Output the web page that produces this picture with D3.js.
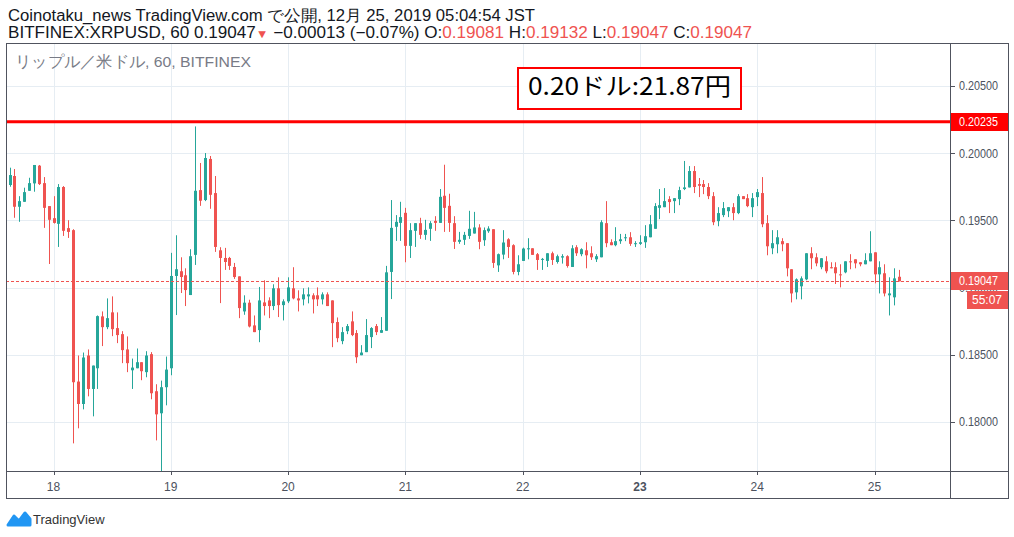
<!DOCTYPE html>
<html>
<head>
<meta charset="utf-8">
<script src="https://cdn.jsdelivr.net/npm/d3@7"></script>
<style>
  body { margin: 0; background: #fff; }
  svg text { font-family: "Liberation Sans", Arial, sans-serif; }
</style>
</head>
<body>
<div id="svg"></div>
<script>
// primera vela visible: 17 dic 15:00, velas de 1 hora
const startTime = new Date(2019, 11, 17, 15);

const opens = [
  .19764,.19831,.19602,.19639,.19721,.19776,.19908,.19778,.19607,.19517,.19475,.19749,
  .19443,.19428,.18301,.18134,.18495,.18246,.18400,.18786,.18706,.18816,.18699,.18654,
  .18540,.18385,.18400,.18445,.18371,.18505,.18229,.18065,.18259,.18400,.19087,.19122,
  .19092,.18945,.19244,.19726,.19652,.19958,.19704,.19278,.19221,.19221,.19154,.19084,
  .18823,.18888,.18719,.18684,.18890,.18905,.18863,.18995,.18870,.18898,.18995,.18920,
  .18913,.18935,.18943,.18943,.18913,.18950,.18905,.18744,.18602,.18676,.18749,.18662,
  .18497,.18520,.18632,.18714,.18664,.18679,.19117,.19453,.19482,.19557,.19311,.19423,
  .19480,.19393,.19438,.19497,.19482,.19684,.19609,.19480,.19341,.19356,.19385,.19403,
  .19448,.19353,.19420,.19435,.19166,.19246,.19360,.19316,.19117,.19199,.19288,.19293,
  .19249,.19209,.19199,.19256,.19191,.19224,.19234,.19154,.19301,.19249,.19278,.19256,
  .19211,.19226,.19480,.19338,.19316,.19346,.19368,.19375,.19326,.19326,.19338,.19375,
  .19438,.19594,.19599,.19659,.19644,.19659,.19734,.19746,.19868,.19771,.19771,.19749,
  .19681,.19495,.19540,.19569,.19599,.19555,.19681,.19666,.19599,.19674,.19704,.19480,
  .19293,.19323,.19346,.19331,.19137,.18965,.19010,.19062,.19256,.19226,.19152,.19196,
  .19152,.19152,.19099,.19114,.19196,.19211,.19189,.19174,.19196,.19263,.19099,.19107,
  .18943,.18928,.19081
];
const highs = [
  .19893,.19883,.19681,.19744,.19818,.19913,.19913,.19823,.19607,.19681,.19771,.19756,
  .19502,.19435,.18495,.18517,.18540,.18420,.18793,.18823,.18920,.18935,.18816,.18676,
  .18637,.18472,.18547,.18445,.18527,.18520,.18281,.18308,.18487,.19259,.19390,.19226,
  .19144,.19286,.20200,.19928,.20002,.19980,.19831,.19301,.19296,.19229,.19184,.19084,
  .18943,.18910,.18793,.19005,.19055,.18928,.19025,.19077,.18913,.19077,.19152,.18980,
  .18995,.19002,.18958,.19002,.18965,.18965,.18905,.18778,.18706,.18729,.18823,.18684,
  .18572,.18766,.18706,.18729,.18781,.19162,.19652,.19540,.19639,.19594,.19480,.19480,
  .19520,.19505,.19495,.19532,.19734,.19915,.19699,.19532,.19415,.19415,.19572,.19564,
  .19472,.19448,.19457,.19435,.19254,.19428,.19368,.19323,.19241,.19298,.19368,.19293,
  .19258,.19221,.19256,.19268,.19246,.19249,.19241,.19316,.19316,.19293,.19338,.19308,
  .19249,.19502,.19644,.19360,.19450,.19400,.19400,.19413,.19346,.19390,.19465,.19540,
  .19629,.19734,.19741,.19681,.19666,.19751,.19943,.19905,.19905,.19816,.19801,.19778,
  .19711,.19599,.19637,.19599,.19629,.19696,.19681,.19696,.19704,.19734,.19823,.19540,
  .19428,.19428,.19368,.19331,.19137,.19069,.19084,.19256,.19301,.19256,.19219,.19234,
  .19189,.19189,.19174,.19196,.19249,.19211,.19189,.19256,.19420,.19263,.19196,.19174,
  .19077,.19144,.19132
];
const lows = [
  .19751,.19520,.19490,.19639,.19721,.19714,.19764,.19445,.19176,.19477,.19303,.19385,
  .19370,.17841,.17953,.18094,.18191,.18042,.18246,.18565,.18691,.18639,.18587,.18438,
  .18371,.18246,.18400,.18311,.18333,.18169,.17863,.17600,.18124,.18348,.18796,.18960,
  .18863,.18945,.19169,.19609,.19644,.19587,.19266,.18885,.19132,.19132,.19065,.18773,
  .18798,.18704,.18669,.18594,.18793,.18773,.18833,.18781,.18756,.18885,.18913,.18823,
  .18868,.18883,.18808,.18863,.18875,.18863,.18557,.18594,.18579,.18654,.18639,.18438,
  .18497,.18520,.18550,.18647,.18664,.18679,.18915,.19348,.19348,.19189,.19221,.19303,
  .19363,.19356,.19348,.19423,.19482,.19415,.19415,.19288,.19326,.19318,.19363,.19403,
  .19286,.19311,.19408,.19147,.19117,.19211,.19221,.19099,.19092,.19199,.19211,.19244,
  .19132,.19132,.19154,.19169,.19179,.19179,.19149,.19154,.19236,.19234,.19144,.19206,
  .19191,.19226,.19301,.19316,.19308,.19326,.19346,.19311,.19303,.19318,.19296,.19375,
  .19438,.19510,.19599,.19555,.19555,.19614,.19726,.19746,.19704,.19674,.19696,.19659,
  .19465,.19457,.19525,.19525,.19502,.19547,.19659,.19599,.19525,.19607,.19450,.19241,
  .19249,.19256,.19271,.19084,.18890,.18913,.18913,.19055,.19137,.19159,.19137,.19107,
  .19144,.19027,.19002,.19107,.19137,.19144,.19159,.19174,.19196,.19032,.18957,.18935,
  .18793,.18868,.19047
];
const closes = [
  .19838,.19602,.19644,.19711,.19778,.19913,.19771,.19594,.19505,.19482,.19749,.19423,
  .19415,.18296,.18134,.18480,.18246,.18420,.18788,.18706,.18773,.18691,.18647,.18535,
  .18438,.18405,.18445,.18378,.18495,.18214,.18057,.18259,.18390,.19087,.19137,.19079,
  .18982,.19234,.19721,.19647,.19965,.19691,.19303,.19221,.19191,.19162,.19079,.18848,
  .18888,.18711,.18669,.18905,.18863,.18863,.18995,.18870,.18898,.19002,.18920,.18905,
  .18950,.18950,.18913,.18913,.18950,.18863,.18736,.18624,.18669,.18714,.18647,.18482,
  .18517,.18647,.18699,.18669,.18684,.19114,.19445,.19490,.19525,.19311,.19428,.19480,
  .19393,.19430,.19480,.19482,.19676,.19594,.19482,.19341,.19356,.19393,.19438,.19448,
  .19341,.19428,.19440,.19184,.19249,.19336,.19303,.19117,.19174,.19291,.19293,.19244,
  .19206,.19214,.19256,.19206,.19234,.19234,.19161,.19293,.19256,.19286,.19241,.19226,
  .19234,.19487,.19331,.19316,.19346,.19360,.19375,.19326,.19331,.19338,.19383,.19472,
  .19607,.19614,.19644,.19637,.19666,.19726,.19746,.19868,.19749,.19758,.19749,.19681,
  .19487,.19555,.19592,.19599,.19555,.19681,.19659,.19607,.19666,.19711,.19472,.19308,
  .19331,.19375,.19323,.19144,.18957,.19062,.19069,.19256,.19219,.19181,.19219,.19122,
  .19144,.19107,.19092,.19196,.19189,.19181,.19174,.19204,.19256,.19099,.19152,.18957,
  .18957,.19069,.19047
];

const dayTicks = [18, 19, 20, 21, 22, 23, 24, 25];
const boldDay = 23;
const priceTicks = [0.180, 0.185, 0.190, 0.195, 0.200, 0.205];
const levelPrice = 0.20235;
const lastPrice = 0.19047;
const countdown = "55:07";
const note = "0.20ドル:21.87円";
const paneTitle = "リップル／米ドル, 60, BITFINEX";
const header1 = "Coinotaku_news TradingView.com で公開, 12月 25, 2019 05:04:54 JST";
const header2 = [
  ["BITFINEX:XRPUSD, 60 0.19047", "dark"], ["▼", "red"], [" −0.00013 (−0.07%) O:", "dark"],
  ["0.19081", "red"], [" H:", "dark"], ["0.19132", "red"], [" L:", "dark"],
  ["0.19047", "red"], [" C:", "dark"], ["0.19047", "red"]
];

// colores
const UP = "#26a69a", DOWN = "#ef5350", GRID = "#e6edf3", BORDER = "#50535e", AXTXT = "#4c525e";

const width = 1014, height = 537;
const area = { left: 6, top: 43, right: 950, bottom: 471 };
const frame = { right: 1008, bottom: 498 };

const svg = d3.select("#svg").append("svg")
  .attr("width", width).attr("height", height);

const candles = opens.map((o, i) => ({
  t: d3.timeHour.offset(startTime, i), o, h: highs[i], l: lows[i], c: closes[i]
}));

const x = d3.scaleTime()
  .domain([new Date(2019, 11, 18), new Date(2019, 11, 25)])
  .range([53.5, 874.5]);
const y = d3.scaleLinear().domain([0.18, 0.20]).range([422, 153.3]);

// rejilla
svg.append("g").selectAll("line").data(dayTicks).join("line")
  .attr("x1", d => Math.round(x(new Date(2019, 11, d))) + 0.5)
  .attr("x2", d => Math.round(x(new Date(2019, 11, d))) + 0.5)
  .attr("y1", area.top).attr("y2", area.bottom)
  .attr("stroke", GRID);
svg.append("g").selectAll("line").data(priceTicks).join("line")
  .attr("x1", area.left).attr("x2", area.right)
  .attr("y1", d => Math.round(y(d)) + 0.5).attr("y2", d => Math.round(y(d)) + 0.5)
  .attr("stroke", GRID);

// velas
svg.append("clipPath").attr("id", "clip").append("rect")
  .attr("x", area.left).attr("y", area.top)
  .attr("width", area.right - area.left).attr("height", area.bottom - area.top);

const g = svg.append("g").attr("clip-path", "url(#clip)");
const color = d => d.c >= d.o ? UP : DOWN;

g.selectAll("line.wick").data(candles).join("line")
  .attr("class", "wick")
  .attr("x1", d => Math.round(x(d.t)) + 0.5).attr("x2", d => Math.round(x(d.t)) + 0.5)
  .attr("y1", d => y(d.h)).attr("y2", d => y(d.l))
  .attr("stroke", color);

g.selectAll("rect.body").data(candles).join("rect")
  .attr("class", "body")
  .attr("x", d => Math.round(x(d.t)) - 1)
  .attr("width", 3)
  .attr("y", d => y(Math.max(d.o, d.c)))
  .attr("height", d => Math.max(1, Math.abs(y(d.o) - y(d.c))))
  .attr("fill", color);

// linea horizontal roja
g.append("line")
  .attr("x1", area.left).attr("x2", area.right)
  .attr("y1", y(levelPrice)).attr("y2", y(levelPrice))
  .attr("stroke", "#ff0000").attr("stroke-width", 3);

// precio actual
g.append("line")
  .attr("x1", area.left).attr("x2", area.right)
  .attr("y1", Math.round(y(lastPrice)) + 0.5).attr("y2", Math.round(y(lastPrice)) + 0.5)
  .attr("stroke", DOWN).attr("stroke-dasharray", "3,2");

// marco
const frameG = svg.append("g").attr("stroke", BORDER).attr("fill", "none");
frameG.append("rect")
  .attr("x", area.left + 0.5).attr("y", area.top + 0.5)
  .attr("width", frame.right - area.left).attr("height", frame.bottom - area.top);
frameG.append("line")
  .attr("x1", area.right + 0.5).attr("x2", area.right + 0.5)
  .attr("y1", area.top).attr("y2", frame.bottom);
frameG.append("line")
  .attr("x1", area.left).attr("x2", frame.right)
  .attr("y1", area.bottom + 0.5).attr("y2", area.bottom + 0.5);

// eje de precios
const yAxis = svg.append("g");
yAxis.selectAll("line").data(priceTicks).join("line")
  .attr("x1", area.right).attr("x2", area.right + 5)
  .attr("y1", d => Math.round(y(d)) + 0.5).attr("y2", d => Math.round(y(d)) + 0.5)
  .attr("stroke", BORDER);
yAxis.selectAll("text").data(priceTicks).join("text")
  .attr("x", 959).attr("y", d => y(d))
  .attr("dy", "0.35em")
  .attr("font-size", 12).attr("fill", AXTXT)
  .attr("textLength", 39).attr("lengthAdjust", "spacingAndGlyphs")
  .text(d => d3.format(".5f")(d));

// eje de tiempo
const xAxis = svg.append("g");
xAxis.selectAll("line").data(dayTicks).join("line")
  .attr("x1", d => Math.round(x(new Date(2019, 11, d))) + 0.5)
  .attr("x2", d => Math.round(x(new Date(2019, 11, d))) + 0.5)
  .attr("y1", area.bottom).attr("y2", area.bottom + 4)
  .attr("stroke", BORDER);
xAxis.selectAll("text").data(dayTicks).join("text")
  .attr("x", d => x(new Date(2019, 11, d)))
  .attr("y", 487).attr("dy", "0.35em")
  .attr("text-anchor", "middle")
  .attr("font-size", 12).attr("fill", AXTXT)
  .attr("font-weight", d => d === boldDay ? "bold" : "normal")
  .text(d => d);

// etiquetas de precio
const tag = (price, fill, label, top) => {
  svg.append("rect")
    .attr("x", area.right + 1).attr("y", top)
    .attr("width", frame.right - area.right - 1).attr("height", 18)
    .attr("fill", fill);
  svg.append("text")
    .attr("x", 959).attr("y", top + 9).attr("dy", "0.35em")
    .attr("font-size", 12).attr("fill", "#fff")
    .attr("textLength", 39).attr("lengthAdjust", "spacingAndGlyphs")
    .text(label);
};
tag(levelPrice, "#ff0000", d3.format(".5f")(levelPrice), Math.round(y(levelPrice)) - 9);
tag(lastPrice, DOWN, d3.format(".5f")(lastPrice), Math.round(y(lastPrice)) - 9);
svg.append("rect")
  .attr("x", 967).attr("y", Math.round(y(lastPrice)) + 10)
  .attr("width", frame.right - 967).attr("height", 18)
  .attr("fill", DOWN);
svg.append("text")
  .attr("x", 987).attr("y", Math.round(y(lastPrice)) + 19).attr("dy", "0.35em")
  .attr("text-anchor", "middle")
  .attr("font-size", 12).attr("fill", "#fff")
  .text(countdown);

// nota
svg.append("rect")
  .attr("x", 518).attr("y", 68).attr("width", 223).attr("height", 41)
  .attr("fill", "#fff").attr("stroke", "#ff0000").attr("stroke-width", 2);
svg.append("text")
  .attr("x", 528).attr("y", 87).attr("dy", "0.35em")
  .style("font-family", "'Noto Sans CJK JP', sans-serif")
  .attr("font-size", 24).attr("fill", "#000")
  .attr("textLength", 203).attr("lengthAdjust", "spacingAndGlyphs")
  .text(note);

// titulos
svg.append("text")
  .attr("x", 15).attr("y", 62).attr("dy", "0.35em")
  .attr("font-size", 15.5).attr("fill", "#787b86")
  .attr("textLength", 236).attr("lengthAdjust", "spacingAndGlyphs")
  .text(paneTitle);

svg.append("text")
  .attr("x", 8).attr("y", 15).attr("dy", "0.35em")
  .attr("font-size", 16).attr("fill", "#131722")
  .attr("textLength", 527).attr("lengthAdjust", "spacingAndGlyphs")
  .text(header1);

svg.append("text")
  .attr("x", 8).attr("y", 32).attr("dy", "0.35em")
  .attr("font-size", 16)
  .attr("textLength", 744).attr("lengthAdjust", "spacingAndGlyphs")
  .selectAll("tspan").data(header2).join("tspan")
  .attr("fill", d => d[1] === "red" ? DOWN : "#131722")
  .attr("font-size", d => d[0] === "▼" ? 12 : 16)
  .text(d => d[0]);

// logo
const logo = svg.append("g");
logo.append("path")
  .attr("d", "M8,525 L14,516 L19,521 L25,513 L30,519 L30,525 Z")
  .attr("fill", "#2196f3").attr("stroke", "#2196f3")
  .attr("stroke-width", 3).attr("stroke-linejoin", "round");
logo.append("text")
  .attr("x", 33).attr("y", 519).attr("dy", "0.35em")
  .attr("font-size", 13).attr("fill", "#333")
  .text("TradingView");
</script>
</body>
</html>
